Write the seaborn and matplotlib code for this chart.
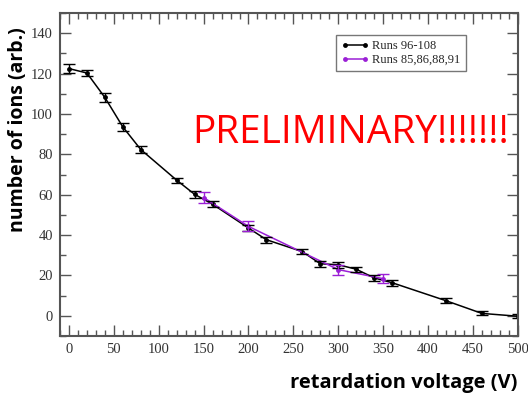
import numpy as np
import pandas as pd
import matplotlib
matplotlib.use('Agg')
import matplotlib.pyplot as plt
import seaborn as sns
from matplotlib.ticker import MultipleLocator

# runs 96-108
volt_a = [0, 20, 40, 60, 80, 120, 140, 160, 200, 220, 260, 280, 300, 320, 340, 360, 420, 460, 500]
ions_a = [122.5, 120.3, 108.2, 93.6, 82.4, 67.2, 60.2, 55.3, 43.5, 37.7, 31.8, 25.8, 25.3, 23.1, 18.8, 16.4, 7.5, 1.2, -0.2]
err_a = [2.3, 1.4, 2.2, 2.0, 1.6, 1.2, 1.6, 1.5, 1.5, 1.5, 1.2, 1.5, 1.5, 1.3, 1.4, 1.4, 1.3, 1.0, 1.0]

# runs 85,86,88,91
volt_b = [150, 200, 300, 350]
ions_b = [58.6, 44.3, 22.9, 18.4]
err_b = [2.6, 2.5, 2.5, 2.3]

df_a = pd.DataFrame({'volt': volt_a, 'ions': ions_a})
df_b = pd.DataFrame({'volt': volt_b, 'ions': ions_b})

sns.set_style('ticks')
plt.rcParams['font.family'] = ['Liberation Serif', 'DejaVu Serif']

black = '#000000'
purple = '#9b1fd6'

fig = plt.figure(figsize=(5.28, 3.96), dpi=100)
ax = fig.add_axes([0.1136, 0.1515, 0.867, 0.8155])

sns.lineplot(data=df_a, x='volt', y='ions', ax=ax, color=black, lw=1.1,
             marker='o', markersize=3.5, markeredgewidth=0, label='Runs 96-108')
sns.lineplot(data=df_b, x='volt', y='ions', ax=ax, color=purple, lw=1.1,
             marker='o', markersize=3.5, markeredgewidth=0, label='Runs 85,86,88,91')
ax.errorbar(volt_a, ions_a, yerr=err_a, fmt='none', ecolor=black, elinewidth=1,
            capsize=4, capthick=1)
ax.errorbar(volt_b, ions_b, yerr=err_b, fmt='none', ecolor=purple, elinewidth=1,
            capsize=4, capthick=1)

ax.set_xlim(-10, 500)
ax.set_ylim(-10, 150)
ax.xaxis.set_major_locator(MultipleLocator(50))
ax.xaxis.set_minor_locator(MultipleLocator(10))
ax.yaxis.set_major_locator(MultipleLocator(20))
ax.yaxis.set_minor_locator(MultipleLocator(10))
ax.set_yticks(range(0, 141, 20))
ax.tick_params(which='both', direction='in', top=True, right=True,
               colors='#555555', labelcolor='#333333', labelsize=10.5, width=1)
ax.tick_params(which='major', length=8, pad=5)
ax.tick_params(which='minor', length=4.5)
for s in ax.spines.values():
    s.set_color('#555555')
    s.set_linewidth(1.5)

ax.set_xlabel('retardation voltage (V)', family='Open Sans', fontweight='bold',
              fontsize=14.5, color='black', loc='right', labelpad=12)
ax.set_ylabel('number of ions (arb.)', family='Open Sans', fontweight='bold',
              fontsize=14, color='black')
ax.yaxis.set_label_coords(-0.07, 0.64)

leg = ax.legend(loc='upper left', bbox_to_anchor=(0.603, 0.932), numpoints=2,
                fontsize=9, frameon=True, fancybox=False, handlelength=2.2,
                borderpad=0.4, labelspacing=0.15, handletextpad=0.3,
                borderaxespad=0)
leg.get_frame().set_edgecolor('#555555')
leg.get_frame().set_linewidth(1)

ax.text(0.635, 0.628, 'PRELIMINARY!!!!!!!', transform=ax.transAxes, color='red',
        family='Open Sans', fontsize=28, ha='center', va='center')

fig.savefig('out.png', dpi=100)
